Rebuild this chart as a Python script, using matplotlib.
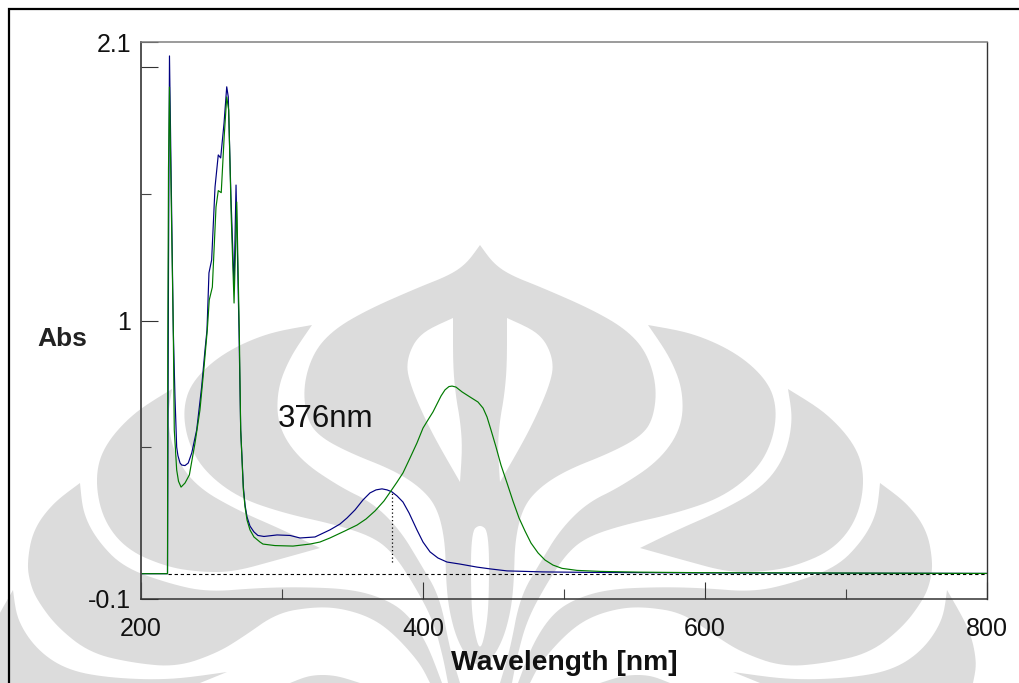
import matplotlib
matplotlib.use("Agg")
import matplotlib.pyplot as plt
import matplotlib.ticker as ticker

plt.rcParams['font.family'] = ['Liberation Sans', 'DejaVu Sans']

# spectra (wavelength nm, absorbance)
blue_wl = [200, 218.8, 219.5, 220.2, 222.9, 224.1, 225.3, 226.2, 227.7, 228.9, 231.2, 233.5, 236, 239.5, 243,
           245.4, 246.8, 248.2, 250.1, 252.5, 254.8, 256.5, 258.9, 260.8, 261.9, 263.8, 266, 267.4, 269.5,
           270.7, 272.6, 273.8, 275.2, 277.3, 280.1, 282.9, 287.2, 296.5, 305.7, 312.8, 323.4, 334, 341.1,
           346.1, 351.8, 357.4, 362.4, 366.7, 370.9, 374.5, 378, 381.6, 385.8, 390.1, 395.7, 400, 405, 410.6,
           417, 426.2, 438.3, 447.5, 459.6, 485.1, 520.6, 596.5, 800]
blue_abs = [0, 0, 1.2, 2.045, 0.962, 0.698, 0.5, 0.466, 0.437, 0.429, 0.427, 0.437, 0.477, 0.568, 0.737,
            0.884, 0.962, 1.188, 1.239, 1.527, 1.654, 1.642, 1.78, 1.923, 1.883, 1.488, 1.132, 1.535, 0.962,
            0.568, 0.342, 0.271, 0.224, 0.188, 0.165, 0.151, 0.147, 0.153, 0.151, 0.141, 0.145, 0.173, 0.196,
            0.22, 0.252, 0.291, 0.319, 0.331, 0.335, 0.331, 0.323, 0.307, 0.283, 0.24, 0.173, 0.125, 0.086, 0.062,
            0.046, 0.038, 0.026, 0.019, 0.011, 0.007, 0.005, 0.003, 0.001]

green_wl = [200, 218.8, 219.0, 219.5, 220.2, 221.5, 222.9, 223.6, 225.3, 226.6, 228.4, 231.2, 234.3, 238.3,
            241.8, 244.7, 247, 248.4, 250.6, 253.2, 254.8, 256.9, 259, 260.8, 262.2, 264, 266, 267.9, 269.7,
            270.7, 272.6, 273.8, 275.2, 277.3, 280.1, 284.4, 286.5, 295, 307.8, 319.9, 326.9, 334, 344.7,
            353.2, 359.6, 366, 372.3, 377.3, 381.6, 385.8, 390.8, 395.7, 400, 403.5, 407.1, 409.9, 412.8,
            415.6, 418.4, 420.6, 423.4, 427.7, 433.3, 439, 442.6, 445.4, 448.2, 451.8, 455.3, 459.6, 463.8,
            468.1, 472.3, 476.6, 481.6, 486.5, 492.2, 498.6, 509.2, 525.5, 553.9, 596.5, 667.4, 800]
green_abs = [0, 0, 0.9, 1.6, 1.922, 1.45, 0.962, 0.568, 0.41, 0.365, 0.342, 0.358, 0.39, 0.516,
             0.646, 0.816, 0.962, 1.081, 1.132, 1.448, 1.513, 1.505, 1.727, 1.883, 1.831, 1.409, 1.069, 1.468,
             0.962, 0.568, 0.331, 0.263, 0.212, 0.173, 0.145, 0.125, 0.117, 0.111, 0.109, 0.117, 0.125, 0.141,
             0.169, 0.192, 0.216, 0.248, 0.287, 0.327, 0.362, 0.398, 0.457, 0.516, 0.575, 0.607, 0.639, 0.67,
             0.702, 0.726, 0.739, 0.741, 0.737, 0.718, 0.698, 0.678, 0.654, 0.619, 0.568, 0.5, 0.429, 0.358,
             0.287, 0.22, 0.169, 0.121, 0.082, 0.054, 0.034, 0.021, 0.013, 0.009, 0.006, 0.004, 0.003, 0.001]

peak_wl = 377.7
peak_abs = 0.322

x_major = [200, 400, 600, 800]
x_minor = [300, 500, 700]
y_major = [-0.1, 1, 2, 2.1]
y_labels = ['-0.1', '1', '', '2.1']
y_minor = [0.5, 1.5]

W, H = 1019, 683
GRAY = '#dcdcdc'

# watermark outlines in pixels, right half of the logo (left half is the mirror around x=480)
crest = [(480, 245), (493, 263), (510, 275), (543, 288), (593, 310), (627, 330), (647, 353), (657, 387),
         (653, 420), (640, 437), (610, 453), (567, 470), (540, 487), (523, 507), (515, 540), (514, 580),
         (511, 610), (503, 640), (490, 662), (480, 665)]
crest_hole = [(507, 318), (540, 333), (553, 357), (552, 380), (530, 430), (500, 482), (497, 437), (507, 380)]
slot = [(471, 532), (480, 524), (489, 532), (489, 600), (486, 630), (480, 652), (474, 630), (471, 600)]
leaf_b = [(648, 325), (693, 333), (737, 353), (767, 380), (777, 407), (773, 440), (757, 470), (723, 497),
          (677, 513), (623, 525), (587, 537), (567, 553), (547, 583), (527, 620), (517, 657), (512, 683),
          (500, 683), (510, 650), (520, 597), (540, 563), (560, 530), (587, 503), (620, 487), (660, 460),
          (682, 427), (683, 390), (670, 357)]
leaf_c = [(788, 389), (827, 413), (857, 447), (865, 480), (857, 520), (833, 550), (793, 567), (760, 572),
          (727, 572), (683, 560), (640, 548), (677, 530), (723, 510), (763, 487), (785, 457), (793, 420)]
leaf_d = [(880, 483), (907, 503), (927, 530), (933, 563), (930, 583), (923, 600), (903, 627), (870, 653),
          (827, 663), (783, 667), (743, 653), (717, 637), (683, 613), (647, 607), (620, 608), (590, 617),
          (567, 633), (540, 663), (530, 683), (518, 683), (533, 643), (553, 613), (577, 598), (610, 589),
          (660, 587), (703, 588), (753, 592), (793, 583), (837, 567), (863, 540), (877, 513)]
leaf_f = [(947, 590), (970, 630), (977, 663), (973, 683), (760, 683), (733, 672), (790, 680), (850, 678),
          (893, 670), (923, 650), (943, 620)]
arch = [(600, 683), (625, 675), (650, 675), (670, 683)]

# points that stay sharp when the outlines get rounded
tips = {(480, 245), (507, 318), (500, 482), (648, 325), (788, 389), (640, 548), (880, 483), (947, 590), (733, 672)}


def mirrored(points):
    return [(960 - x, y) for x, y in points]


def rounded(points, rounds=3):
    # corner cutting, tips and points on the bottom edge are kept
    tip_set = tips | {(960 - x, y) for x, y in tips}
    pts = [(p, p in tip_set or p[1] >= H) for p in points]
    for _ in range(rounds):
        out = []
        for i, (p, sharp) in enumerate(pts):
            q, q_sharp = pts[(i + 1) % len(pts)]
            if sharp:
                out.append((p, True))
            else:
                prev = pts[i - 1][0]
                out.append(((0.75 * p[0] + 0.25 * prev[0], 0.75 * p[1] + 0.25 * prev[1]), False))
                out.append(((0.75 * p[0] + 0.25 * q[0], 0.75 * p[1] + 0.25 * q[1]), False))
        pts = out
    return [p for p, _ in pts]


fig = plt.figure(figsize=(W / 100, H / 100), dpi=100)

# background layer, pixel coordinates
bg = fig.add_axes([0, 0, 1, 1], zorder=0)
bg.set_xlim(0, W)
bg.set_ylim(H, 0)
bg.axis('off')

bg.fill(*zip(*rounded(crest + mirrored(crest)[::-1][1:-1])), color=GRAY, lw=0)
for hole in [crest_hole, mirrored(crest_hole), slot]:
    bg.fill(*zip(*rounded(hole)), color='white', lw=0)
for leaf in [leaf_b, leaf_c, leaf_d, leaf_f, arch]:
    bg.fill(*zip(*rounded(leaf)), color=GRAY, lw=0)
    bg.fill(*zip(*rounded(mirrored(leaf))), color=GRAY, lw=0)

# outer frame of the pasted picture
bg.plot([9, 9, W], [H, 9, 9], color='black', lw=1.6, solid_joinstyle='miter')

# chart
ax = fig.add_axes([141 / W, 1 - 599 / H, 846 / W, 557 / H], zorder=1)
ax.patch.set_alpha(0)
ax.set_xlim(200, 800)
ax.set_ylim(-0.1, 2.1)

ax.plot([218.8, 800], [0, 0], color='black', lw=0.8, dashes=(3, 2.5))
ax.plot([peak_wl, peak_wl], [0.045, peak_abs], color='black', lw=0.9, dashes=(1, 2))
ax.plot(blue_wl, blue_abs, color='#000080', lw=0.85)
ax.plot(green_wl, green_abs, color='#007a00', lw=0.85)

ax.text(297, 0.612, '376nm', fontsize=22.5, va='center', ha='left', color='#111111')
fig.text(62 / W, 1 - 339 / H, 'Abs', fontsize=19, fontweight='bold', ha='center', va='center', color='#222222')
fig.text(564 / W, 1 - 663 / H, 'Wavelength [nm]', fontsize=20.3, fontweight='bold', ha='center', va='center',
         color='#111111')

ax.xaxis.set_major_locator(ticker.FixedLocator(x_major))
ax.xaxis.set_minor_locator(ticker.FixedLocator(x_minor))
ax.yaxis.set_major_locator(ticker.FixedLocator(y_major))
ax.yaxis.set_minor_locator(ticker.FixedLocator(y_minor))
ax.set_yticklabels(y_labels)
ax.set_xticklabels([str(v) for v in x_major])
ax.tick_params(which='major', direction='in', length=12.2, width=0.8, color='#333333', labelsize=18,
               labelcolor='#111111')
ax.tick_params(which='minor', direction='in', length=7.2, width=0.8, color='#444444')
ax.tick_params(axis='x', which='major', pad=13)
ax.tick_params(axis='y', which='major', pad=7)

ax.spines['left'].set_color('#444444')
ax.spines['left'].set_linewidth(1.3)
ax.spines['bottom'].set_color('#333333')
ax.spines['bottom'].set_linewidth(1.1)
ax.spines['top'].set_color('#808080')
ax.spines['top'].set_linewidth(1.1)
ax.spines['right'].set_color('#333333')
ax.spines['right'].set_linewidth(1.0)

fig.savefig('out.png', dpi=100)
